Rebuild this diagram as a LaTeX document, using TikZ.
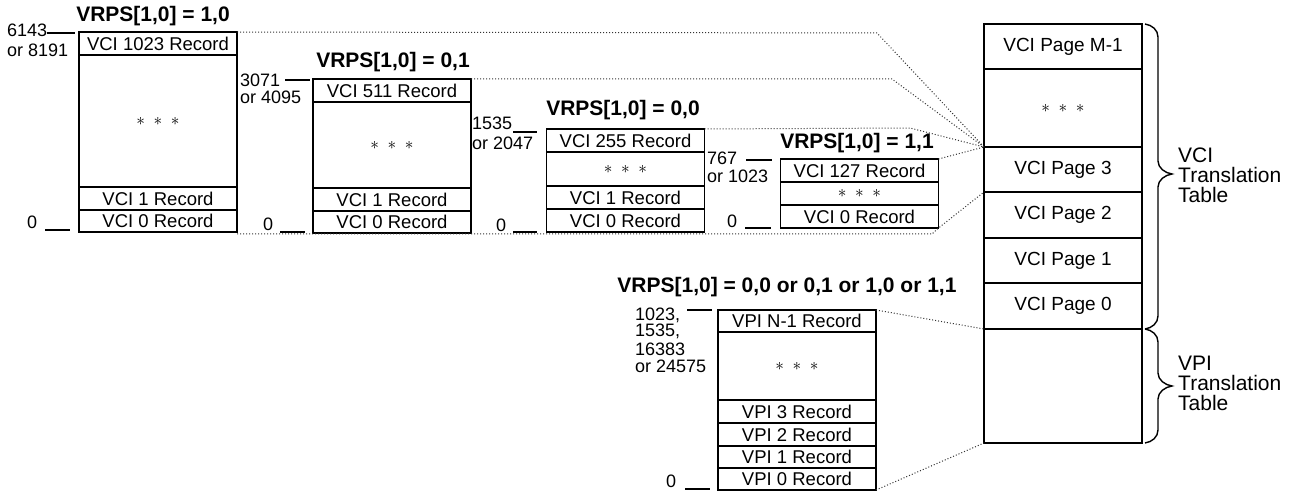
\documentclass[tikz,border=0pt]{standalone}
\usepackage{fontspec}
\setmainfont{Liberation Sans}
\begin{document}
\begin{tikzpicture}[x=1pt,y=-1pt,
  cell/.style={draw, line width=1.3pt, minimum width=158pt, inner sep=0pt, outer sep=0pt,
    font=\fontsize{18.5}{19}\selectfont},
  pcell/.style={cell, font=\fontsize{19}{19}\selectfont},
  ht/.style={minimum height=#1pt},
  ttl/.style={font=\fontsize{21}{23}\selectfont\bfseries, inner sep=0pt},
  lbl/.style={font=\fontsize{18}{18}\selectfont, inner sep=0pt, anchor=west},
  tick/.style={line width=1.2pt},
  dot/.style={dotted, line width=1pt, black!80},
  brc/.style={line width=1.4pt},
  side/.style={font=\fontsize{21}{20}\selectfont, align=left, anchor=west, inner sep=0pt}]
\useasboundingbox (0,0) rectangle (1293,494);
\newcommand\stars{$\ast\;\ast\;\ast$}

% ---- box 1 : VRPS = 1,0
\node[ttl] (t1) at (153,16) {VRPS[1,0] = 1,0};
\node[cell, ht=23] (a1) at (158,43.5) {VCI 1023 Record};
\node[cell, ht=132] (a2) at (158,121) {\stars};
\node[cell, ht=23] (a3) at (158,198.5) {VCI 1 Record};
\node[cell, ht=22] (a4) at (158,221) {VCI 0 Record};
\node[lbl] (la1) at (7,30) {6143};
\node[lbl] (la2) at (7,50) {or 8191};
\node[lbl] (la0) at (27,222) {0};
\draw[tick] (47,33) -- (75,33);
\draw[tick] (45,230) -- (70,230);

% ---- box 2 : VRPS = 0,1
\node[ttl] (t2) at (393,62) {VRPS[1,0] = 0,1};
\node[cell, ht=23] (b1) at (392,90.5) {VCI 511 Record};
\node[cell, ht=86] (b2) at (392,145) {\stars};
\node[cell, ht=23] (b3) at (392,199.5) {VCI 1 Record};
\node[cell, ht=22] (b4) at (392,222) {VCI 0 Record};
\node[lbl] (lb1) at (240,80) {3071};
\node[lbl] (lb2) at (240,97) {or 4095};
\node[lbl] (lb0) at (263,224) {0};
\draw[tick] (285,80) -- (310,80);
\draw[tick] (280,232) -- (305,232);

% ---- box 3 : VRPS = 0,0
\node[ttl] (t3) at (623,110) {VRPS[1,0] = 0,0};
\node[cell, ht=23] (c1) at (625.5,140.5) {VCI 255 Record};
\node[cell, ht=34] (c2) at (625.5,169) {\stars};
\node[cell, ht=23] (c3) at (625.5,197.5) {VCI 1 Record};
\node[cell, ht=23] (c4) at (625.5,220.5) {VCI 0 Record};
\node[lbl] (lc1) at (472,123) {1535};
\node[lbl] (lc2) at (472,143) {or 2047};
\node[lbl] (lc0) at (496,225) {0};
\draw[tick] (513,132) -- (537,132);
\draw[tick] (513,232) -- (537,232);

% ---- box 4 : VRPS = 1,1
\node[ttl] (t4) at (857,143) {VRPS[1,0] = 1,1};
\node[cell, ht=23] (d1) at (859.5,170.5) {VCI 127 Record};
\node[cell, ht=23] (d2) at (859.5,193.5) {\stars};
\node[cell, ht=23] (d3) at (859.5,216.5) {VCI 0 Record};
\node[lbl] (ld1) at (707,158) {767};
\node[lbl] (ld2) at (707,176) {or 1023};
\node[lbl] (ld0) at (727,221) {0};
\draw[tick] (746,160) -- (772,160);
\draw[tick] (745,228) -- (771,228);

% ---- VPI records
\node[ttl] (t5) at (787,287) {VRPS[1,0] = 0,0 or 0,1 or 1,0 or 1,1};
\node[cell, ht=22] (v1) at (797,321) {VPI N-1 Record};
\node[cell, ht=68] (v2) at (797,366) {\stars};
\node[cell, ht=23] (v3) at (797,411.5) {VPI 3 Record};
\node[cell, ht=23] (v4) at (797,434.5) {VPI 2 Record};
\node[cell, ht=22] (v5) at (797,457) {VPI 1 Record};
\node[cell, ht=22] (v6) at (797,479) {VPI 0 Record};
\node[lbl] (lv1) at (635,315) {1023,};
\node[lbl] (lv2) at (635,331) {1535,};
\node[lbl] (lv3) at (635,349) {16383};
\node[lbl] (lv4) at (635,366) {or 24575};
\node[lbl] (lv0) at (666,481) {0};
\draw[tick] (687,310) -- (712,310);
\draw[tick] (685,489) -- (710,489);

% ---- translation table
\node[pcell, ht=45] (pm) at (1063,46.5) {VCI Page M-1};
\node[pcell, ht=78] (ps) at (1063,108) {\stars};
\node[pcell, ht=45] (p3) at (1063,169.5) {VCI Page 3};
\node[pcell, ht=46] (p2) at (1063,215) {VCI Page 2};
\node[pcell, ht=45] (p1) at (1063,260.5) {VCI Page 1};
\node[pcell, ht=46] (p0) at (1063,306) {VCI Page 0};
\node[pcell, ht=114] (vt) at (1063,386) {};

% braces
\draw[brc] (1145,24) .. controls (1152,25) and (1158,30) .. (1158,37)
  -- (1158,161) .. controls (1158,168) and (1165,173) .. (1172,174)
  .. controls (1165,175) and (1158,180) .. (1158,187)
  -- (1158,316) .. controls (1158,323) and (1152,328) .. (1145,329);
\draw[brc] (1145,329) .. controls (1152,330) and (1158,335) .. (1158,342)
  -- (1158,373) .. controls (1158,380) and (1165,385) .. (1172,386)
  .. controls (1165,387) and (1158,392) .. (1158,399)
  -- (1158,430) .. controls (1158,437) and (1152,442) .. (1145,443);
\node[side] (s1) at (1178,175) {VCI\\Translation\\Table};
\node[side] (s2) at (1178,383) {VPI\\Translation\\Table};

% ---- dotted mapping lines
\coordinate (k1) at (877,33);
\coordinate (k2) at (892,79);
\coordinate (k3) at (910,128);
\coordinate (k6) at (932,234);
\draw[dot] (a1.north east) -- (k1) -- (p3.north west);
\draw[dot] (b1.north east) -- (k2) -- (p3.north west);
\draw[dot] (c1.north east) -- (k3) -- (p3.north west);
\draw[dot] (d1.north east) -- (p3.north west);
\draw[dot] ([yshift=-2pt]a4.south east) -- (k6) -- (d3.south east) -- (p2.north west);
\draw[dot] (v1.north east) -- (vt.north west);
\draw[dot] (v6.south east) -- (vt.south west);
\end{tikzpicture}
\end{document}
